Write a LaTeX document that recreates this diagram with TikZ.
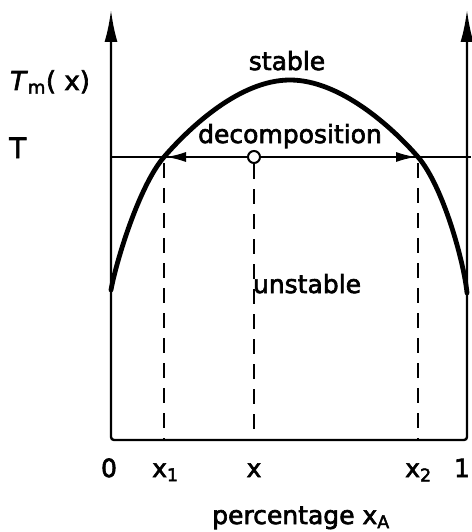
\documentclass[tikz,border=0pt]{standalone}
\usepackage{fontspec}
\setmainfont{DejaVu Sans}
\newfontfamily\lblfont[FakeBold=2.5]{DejaVu Sans}
\usetikzlibrary{arrows.meta}
\begin{document}
\begin{tikzpicture}[x=1pt,y=-1pt,
  lbl/.style={font=\lblfont\fontsize{25}{30}\selectfont, inner sep=0pt, anchor=base},
  biglbl/.style={font=\lblfont\fontsize{28}{32}\selectfont, inner sep=0pt, anchor=base west},
  axisline/.style={line width=2.4pt, rounded corners=3pt},
  curveline/.style={line width=4.8pt, line cap=round, line join=round},
  tline/.style={line width=1.8pt},
  dashline/.style={line width=2pt, dash pattern=on 15pt off 10pt},
  outarrow/.style={line width=1.8pt, -{Latex[length=20pt,width=10pt]}, shorten >=2pt},
  opencirc/.style={circle, draw, line width=2pt, fill=white, minimum size=12pt, inner sep=0pt}
]
\useasboundingbox (0,0) rectangle (471,532);
% axes
\coordinate (OT) at (111,10);
\coordinate (O) at (111,440);
\coordinate (E) at (467,440);
\coordinate (ET) at (467,10);
\draw[axisline, {Latex[length=32pt,width=13pt]}-{Latex[length=32pt,width=13pt]}] (OT) -- (O) -- (E) -- (ET);
% T line
\coordinate (TL) at (111,157);
\coordinate (TR) at (471,157);
\draw[tline] (TL) -- (TR);
% curve
\coordinate (CL) at (111,290);
\coordinate (X1) at (164,157);
\coordinate (PK) at (290,80);
\coordinate (X2) at (418,157);
\coordinate (CR) at (467,293);
\draw[curveline] (CL) .. controls (116,262) and (139,186) .. (X1)
  .. controls (190,127) and (240,80) .. (PK)
  .. controls (340,80) and (392,127) .. (X2)
  .. controls (443,186) and (464,262) .. (CR);
% crossing points
\coordinate (X1b) at (164,440);
\coordinate (X2b) at (418,440);
\coordinate (Xb) at (254,440);
\node[opencirc] (c) at (254,157) {};
\draw[dashline] (X1) ++(0,6) coordinate (X1s) (X1s) -- (X1b);
\draw[dashline] (c.south) -- (Xb);
\draw[dashline] (X2) ++(0,6) coordinate (X2s) (X2s) -- (X2b);
\draw[outarrow] (c) -- (X1);
\draw[outarrow] (c) -- (X2);
% labels
\node[biglbl, font=\lblfont\fontsize{26}{30}\selectfont] (tm) at (10,90) {\textit{T}\textsubscript{m}( x)};
\node[biglbl] (t) at (9,158) {T};
\node[lbl] (st) at (287,70) {stable};
\node[lbl] (dec) at (290,143) {decomposition};
\node[lbl] (un) at (307,293) {unstable};
\node[lbl] (l0) at (109,477) {0};
\node[lbl, anchor=base west] (lx1) at (152,477) {x\textsubscript{1}};
\node[lbl] (lx) at (254,477) {x};
\node[lbl, anchor=base west] (lx2) at (405,477) {x\textsubscript{2}};
\node[lbl] (l1) at (462,477) {1};
\node[lbl] (pct) at (301,524) {percentage x\textsubscript{A}};
\end{tikzpicture}
\end{document}
